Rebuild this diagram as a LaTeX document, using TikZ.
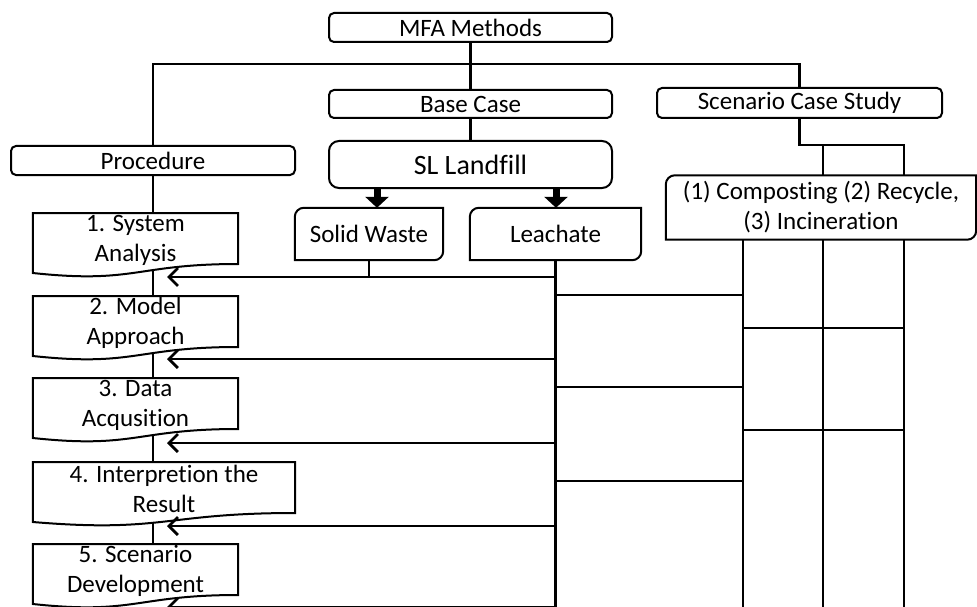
\documentclass[tikz,border=0pt]{standalone}
\usepackage{fontspec}
\setmainfont{Carlito}[Ligatures=NoCommon]
\usetikzlibrary{arrows.meta,calc}
\pgfdeclarelayer{bg}
\pgfsetlayers{bg,main}
\newcommand\docoutline[1]{%
  \draw[boxline] (#1.north west) -- (#1.north east) -- ++(0,51)
    .. controls ($(#1.north)+(0,51)$) and ($(#1.north)+(0,71)$) .. ($(#1.north west)+(0,60)$) -- cycle;}
\newcommand\diagoutline[1]{%
  \draw[boxline] (#1.north east) -- ($(#1.north west)+(9,0)$) arc[start angle=90,end angle=180,radius=9pt]
    -- (#1.south west) -- ($(#1.south east)+(-9,0)$) arc[start angle=270,end angle=360,radius=9pt] -- cycle;}
\begin{document}
\begin{tikzpicture}[x=1pt,y=-1pt,
  conn/.style={line width=2.8pt},
  boxline/.style={line width=2pt, draw=black, fill=white},
  txt/.style={inner sep=0pt, align=center, font=\fontsize{25}{30}\selectfont},
  rbox/.style={txt, draw=black, fill=white, line width=2pt, rounded corners=5pt},
  larr/.style={conn, -{Straight Barb[length=9pt,width=18pt]}},
  bigarr/.style={line width=7pt, -{Triangle[length=11pt,width=23pt]}},
]
\useasboundingbox (0,0) rectangle (977,607);

% top boxes
\node[rbox, minimum width=283pt, minimum height=29pt] (mfa) at (470.5,27.5) {MFA Methods};
\node[rbox, minimum width=283pt, minimum height=28pt] (base) at (470.5,104) {Base Case};
\node[rbox, minimum width=283pt, minimum height=47pt, rounded corners=10pt, font=\fontsize{28}{32}\selectfont] (sl) at (470.5,164.5) {SL Landfill};
\node[rbox, minimum width=284pt, minimum height=29pt] (proc) at (153,160.5) {Procedure};
\node[rbox, minimum width=285pt, minimum height=30pt] (scen) at (799.5,103) {Scenario Case Study};

% diagonal-rounded boxes
\node[txt, minimum width=148pt, minimum height=52pt] (sw) at (369,234) {Solid Waste};
\node[txt, minimum width=171pt, minimum height=52pt] (lea) at (555.5,234) {Leachate};
\node[txt, minimum width=310pt, minimum height=64pt] (comp) at (821,207.5) {(1) Composting (2) Recycle,\\(3) Incineration};

% procedure documents
\node[txt, anchor=north, minimum width=205pt, minimum height=54pt] (p1) at (135.5,213) {1. System\\Analysis};
\node[txt, anchor=north, minimum width=205pt, minimum height=54pt] (p2) at (135.5,296) {2. Model\\Approach};
\node[txt, anchor=north, minimum width=205pt, minimum height=54pt] (p3) at (135.5,378) {3. Data\\Acqusition};
\node[txt, anchor=north, minimum width=262pt, minimum height=54pt] (p4) at (164,462) {4. Interpretion the\\Result};
\node[txt, anchor=north, minimum width=205pt, minimum height=54pt] (p5) at (135.5,544) {5. Scenario\\Development};

\begin{pgfonlayer}{bg}
  \draw[conn] (proc.south) -- (proc.south |- p5.north);
  \docoutline{p1}
  \docoutline{p2}
  \docoutline{p3}
  \docoutline{p4}
  \docoutline{p5}
  \diagoutline{sw}
  \diagoutline{lea}
  \diagoutline{comp}
\end{pgfonlayer}

% named coordinates
\coordinate (j) at (470.5,64);
\coordinate (a1) at (377,0);
\coordinate (a2) at (556,0);
\coordinate (c1) at (743,0);
\coordinate (c2) at (823,0);
\coordinate (c3) at (904,0);
\coordinate (bot) at (0,610);
\coordinate (t1) at (167,277);
\coordinate (t2) at (167,359);
\coordinate (t3) at (167,443);
\coordinate (t4) at (167,526);
\coordinate (t5) at (167,607);

% top tree
\draw[conn] (mfa.south) -- (base.north);
\draw[conn] (proc.north) -- (proc.north |- j) -- (scen.north |- j) -- (scen.north);
\draw[conn] (base.south) -- (sl.north);
\draw[bigarr] (sl.south -| a1) -- (sw.north -| a1);
\draw[bigarr] (sl.south -| a2) -- (lea.north -| a2);

% scenario branch
\draw[conn] (scen.south) -- (scen.south |- 0,145) -| (comp.north -| c3);
\draw[conn] (c2 |- 0,145) -- (comp.north -| c2);
\foreach \c in {c1,c2,c3} \draw[conn] (comp.south -| \c) -- (\c |- bot);
\foreach \y in {295,387,481} \draw[conn] (lea.south |- 0,\y) -- (c1 |- 0,\y);
\foreach \y in {328,430} \draw[conn] (c1 |- 0,\y) -- (c3 |- 0,\y);

% leachate / solid waste feedback
\draw[conn] (sw.south) -- (sw.south |- t1);
\draw[conn] (lea.south) -- (lea.south |- bot);
\foreach \t in {t1,t2,t3,t4,t5} \draw[larr] (lea.south |- \t) -- (\t);
\end{tikzpicture}
\end{document}
